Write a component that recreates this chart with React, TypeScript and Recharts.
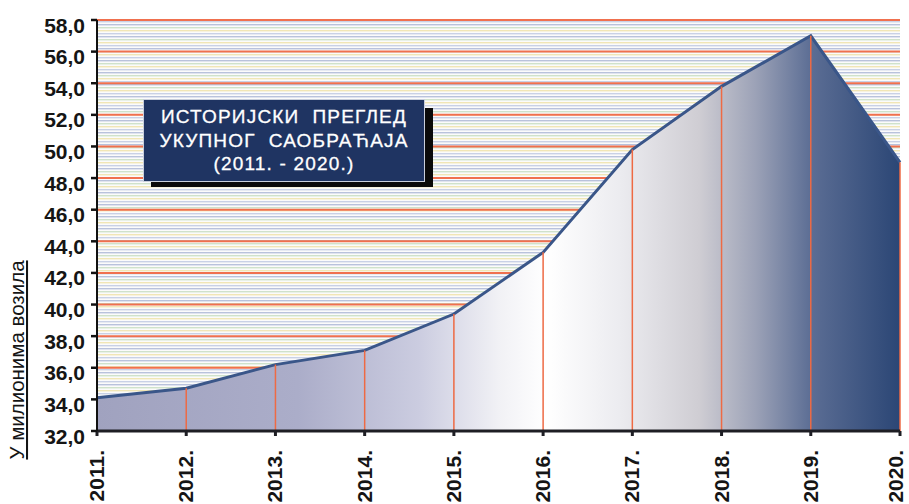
import React from "react";
import {
  Area,
  AreaChart,
  CartesianGrid,
  ReferenceLine,
  XAxis,
  YAxis,
} from "recharts";

const years = ["2011.", "2012.", "2013.", "2014.", "2015.", "2016.", "2017.", "2018.", "2019.", "2020."];
const traffic = [34.1, 34.7, 36.2, 37.1, 39.4, 43.3, 49.8, 53.8, 57.0, 49.0];
const yTicks = [32, 34, 36, 38, 40, 42, 44, 46, 48, 50, 52, 54, 56, 58];
const titleLines = ["ИСТОРИЈСКИ  ПРЕГЛЕД", "УКУПНОГ  САОБРАЋАЈА", "(2011. - 2020.)"];
const unitLabel = "У милионима возила";

const FONT = "'Liberation Sans', Arial, sans-serif";

const data = years.map((year, i) => ({ year, value: traffic[i] }));

const YTick = (props: any) => {
  const { x, y, payload } = props;
  return (
    <text
      x={x}
      y={y + 5}
      dy="0.36em"
      textAnchor="end"
      fontFamily={FONT}
      fontWeight="bold"
      fontSize={21}
      fill="#151515"
    >
      {payload.value.toFixed(1).replace(".", ",")}
    </text>
  );
};

const XTick = (props: any) => {
  const { x, y, payload } = props;
  // keep the last rotated label inside the 909px frame
  const ax = Math.min(x + 7, 903);
  const ay = y + 12;
  return (
    <text
      x={ax}
      y={ay}
      transform={`rotate(-90 ${ax} ${ay})`}
      textAnchor="end"
      fontFamily={FONT}
      fontWeight="bold"
      fontSize={21}
      fill="#151515"
    >
      {payload.value}
    </text>
  );
};

const UnitLabel = () => (
  <text
    x={24}
    y={360}
    transform="rotate(-90 24 360)"
    textAnchor="middle"
    fontFamily={FONT}
    fontSize={20.5}
    fill="#151515"
    textDecoration="underline"
  >
    {unitLabel}
  </text>
);

export default function App() {
  return (
    <div
      style={{
        position: "absolute",
        left: 0,
        top: 0,
        width: 909,
        height: 504,
        background: "#fff",
        overflow: "hidden",
      }}
    >
      <AreaChart
        width={909}
        height={504}
        data={data}
        margin={{ top: 20, right: 9, left: 0, bottom: 3 }}
      >
        <defs>
          <pattern id="stripes" patternUnits="userSpaceOnUse" width={8} height={12}>
            <rect width={8} height={12} fill="#fbfbfb" />
            <rect y={0} width={8} height={1.4} fill="#b9c2dc" />
            <rect y={3} width={8} height={1.4} fill="#cfe2cb" />
            <rect y={6} width={8} height={1.4} fill="#f1e6b6" />
            <rect y={9} width={8} height={1.4} fill="#c9d1e6" />
          </pattern>
          <linearGradient id="areaFill" x1="0" y1="0" x2="1" y2="0">
            <stop offset="0" stopColor="#a0a2bf" />
            <stop offset="0.25" stopColor="#abadc9" />
            <stop offset="0.4" stopColor="#cbcce0" />
            <stop offset="0.5" stopColor="#f1f1f5" />
            <stop offset="0.56" stopColor="#ffffff" />
            <stop offset="0.65" stopColor="#ececf0" />
            <stop offset="0.75" stopColor="#cfcdd3" />
            <stop offset="0.82" stopColor="#9ca2b7" />
            <stop offset="0.89" stopColor="#5b6d94" />
            <stop offset="1" stopColor="#2b4675" />
          </linearGradient>
        </defs>
        <CartesianGrid
          vertical={false}
          fill="url(#stripes)"
          stroke="#f0704e"
          strokeWidth={2}
        />
        <XAxis
          dataKey="year"
          interval={0}
          height={70}
          axisLine={{ stroke: "#1e1e24", strokeWidth: 3 }}
          tickLine={{ stroke: "#1e1e24", strokeWidth: 3 }}
          tickSize={5}
          tick={<XTick />}
        />
        <XAxis
          xAxisId="top"
          dataKey="year"
          orientation="top"
          height={0}
          tick={false}
          tickLine={false}
          axisLine={{ stroke: "#111", strokeWidth: 2 }}
        />
        <YAxis
          domain={[32, 58]}
          ticks={yTicks}
          width={97}
          interval={0}
          allowDataOverflow
          axisLine={{ stroke: "#111", strokeWidth: 2 }}
          tickLine={{ stroke: "#111", strokeWidth: 2.5 }}
          tickSize={6}
          tickMargin={6}
          tick={<YTick />}
          label={<UnitLabel />}
        />
        <YAxis
          yAxisId="right"
          orientation="right"
          domain={[32, 58]}
          width={0}
          tick={false}
          tickLine={false}
          axisLine={{ stroke: "#222", strokeWidth: 1.5 }}
        />
        <Area
          type="linear"
          dataKey="value"
          stroke="#3a5689"
          strokeWidth={3}
          fill="url(#areaFill)"
          fillOpacity={1}
          dot={false}
          activeDot={false}
          isAnimationActive={false}
        />
        {data.map((d) => (
          <ReferenceLine
            key={d.year}
            segment={[
              { x: d.year, y: 32 },
              { x: d.year, y: d.value },
            ]}
            stroke="#ee6a44"
            strokeWidth={1.5}
          />
        ))}
      </AreaChart>
      <div
        style={{
          position: "absolute",
          left: 151,
          top: 108,
          width: 282,
          height: 79,
          background: "#0a0a0a",
        }}
      />
      <div
        style={{
          position: "absolute",
          left: 143,
          top: 99,
          width: 280,
          height: 76,
          background: "#1f3462",
          border: "1px solid #c9cfdc",
          color: "#fff",
          fontFamily: FONT,
          fontSize: 19,
          lineHeight: "23.5px",
          textAlign: "center",
          whiteSpace: "pre",
          paddingTop: 5,
          letterSpacing: 1.2,
          WebkitTextStroke: "0.3px #fff",
        }}
      >
        {titleLines.map((line) => (
          <div key={line}>{line}</div>
        ))}
      </div>
    </div>
  );
}
